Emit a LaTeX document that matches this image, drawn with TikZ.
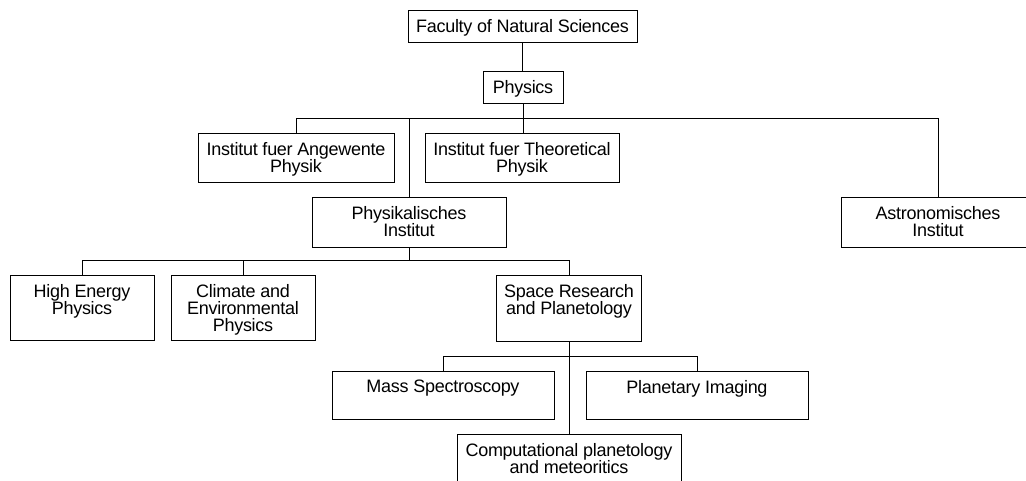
\documentclass[tikz,border=0pt]{standalone}
\usepackage{fontspec}
\setmainfont{Liberation Sans}[LetterSpace=-1.5]
\begin{document}
\begin{tikzpicture}[x=1pt,y=-1pt,
  box/.style={draw=black, line width=0.9pt, rectangle, inner sep=0pt, outer sep=0pt, fill=white},
  lbl/.style={anchor=north, align=center, inner sep=0pt, yshift=-9pt,
    font=\fontsize{18pt}{17pt}\selectfont},
  conn/.style={draw=black, line width=0.9pt}]
\useasboundingbox (0,0) rectangle (1026,480);
\clip (0,0) rectangle (1026,480);
\fill[white] (0,0) rectangle (1026,480);
% bus levels
\coordinate (b1) at (0,118);
\coordinate (b2) at (0,260);
\coordinate (b3) at (0,356);
% nodes
\node[box, minimum width=229pt, minimum height=32pt, label={[lbl]north:{Faculty of Natural Sciences}}] (fac) at (522.5,26) {};
\node[box, minimum width=80pt, minimum height=32pt, label={[lbl]north:{Physics}}] (phy) at (523,87) {};
\node[box, minimum width=196pt, minimum height=49pt, label={[lbl]north:{Institut fuer Angewente\\Physik}}] (iap) at (296,157.5) {};
\node[box, minimum width=194pt, minimum height=49pt, label={[lbl]north:{Institut fuer Theoretical\\Physik}}] (itp) at (522,157.5) {};
\node[box, minimum width=194pt, minimum height=50pt, label={[lbl]north:{Physikalisches\\Institut}}] (pi) at (409,222) {};
\node[box, minimum width=194pt, minimum height=50pt, label={[lbl]north:{Astronomisches\\Institut}}] (ai) at (938,222) {};
\node[box, minimum width=144pt, minimum height=65pt, label={[lbl]north:{High Energy\\Physics}}] (hep) at (82,307.5) {};
\node[box, minimum width=144pt, minimum height=65pt, label={[lbl]north:{Climate and\\Environmental\\Physics}}] (cep) at (243,307.5) {};
\node[box, minimum width=145pt, minimum height=66pt, label={[lbl]north:{Space Research\\and Planetology}}] (srp) at (569,308) {};
\node[box, minimum width=222pt, minimum height=48pt, label={[lbl]north:{Mass Spectroscopy}}] (ms) at (443,395) {};
\node[box, minimum width=222pt, minimum height=48pt, label={[lbl]north:{Planetary Imaging}}] (pim) at (697,395) {};
\node[box, minimum width=224pt, minimum height=49pt, label={[lbl]north:{Computational planetology\\and meteoritics}}] (cpm) at (569,458.5) {};
% connectors
\draw[conn] (fac.south) -- (fac.south |- phy.north);
\draw[conn] (phy.south) -- (phy.south |- itp.north);
\draw[conn] (iap.north) -- (iap.north |- b1) -- (ai.north |- b1) -- (ai.north);
\draw[conn] (pi.north) -- (pi.north |- b1);
\draw[conn] (hep.north) -- (hep.north |- b2) -- (srp.north |- b2) -- (srp.north);
\draw[conn] (cep.north) -- (cep.north |- b2);
\draw[conn] (pi.south) -- (pi.south |- b2);
\draw[conn] (ms.north) -- (ms.north |- b3) -- (pim.north |- b3) -- (pim.north);
\draw[conn] (srp.south) -- (cpm.north);
\end{tikzpicture}
\end{document}
